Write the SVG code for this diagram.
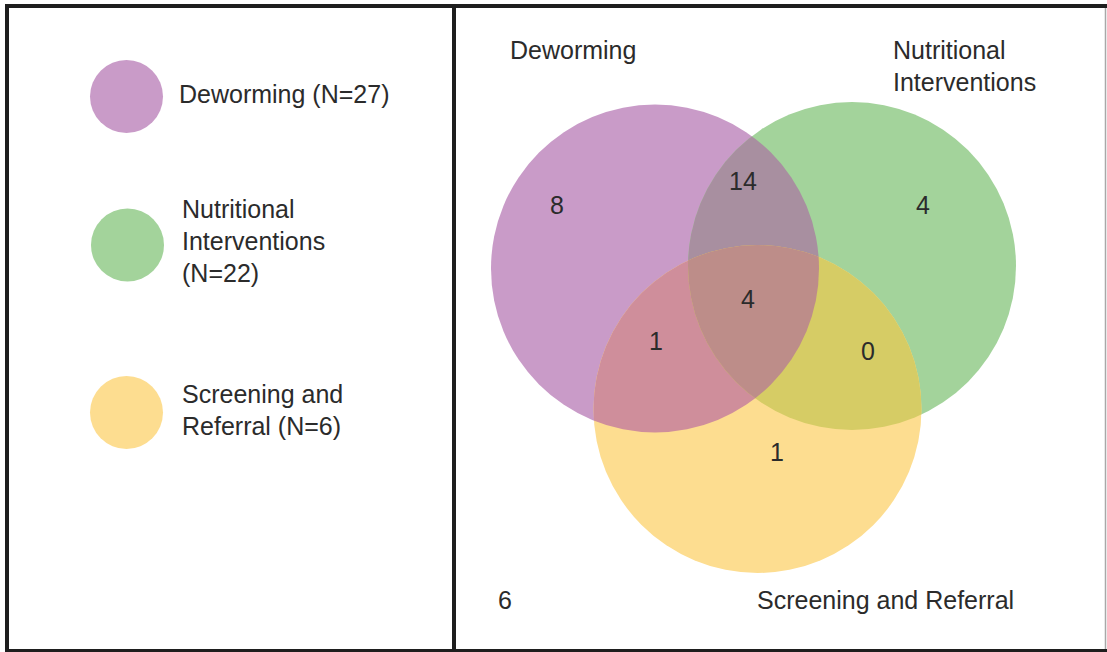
<svg xmlns="http://www.w3.org/2000/svg" width="1107" height="652" viewBox="0 0 1107 652">
<style>
text{font-family:"Liberation Sans",Arial,Helvetica,sans-serif;font-size:25px;fill:#2b2b2b}
.num{text-anchor:middle}
.frame{stroke:#1e1e1e;stroke-width:4;fill:none}
</style>
<defs>
<clipPath id="cpP"><circle cx="655" cy="268.5" r="164"/></clipPath>
<clipPath id="cpG"><circle cx="852" cy="266" r="164"/></clipPath>
</defs>
<rect width="1107" height="652" fill="#ffffff"/>
<g id="frame">
<line class="frame" x1="5" y1="6" x2="1107" y2="6"/>
<line class="frame" x1="7" y1="4" x2="7" y2="652"/>
<line class="frame" x1="5" y1="651" x2="1107" y2="651"/>
<line class="frame" x1="454" y1="4" x2="454" y2="652"/>
<line x1="1105.5" y1="8" x2="1105.5" y2="649" stroke="#a8a8a8" stroke-width="1.5"/>
</g>
<g id="legend">
<g id="legend-deworming">
<circle cx="126.5" cy="96.5" r="36.5" fill="#c99bc8"/>
<text x="179" y="103">Deworming (N=27)</text>
</g>
<g id="legend-nutritional">
<circle cx="127.5" cy="245" r="36.5" fill="#a3d39b"/>
<text x="182" y="218">Nutritional</text>
<text x="182" y="250">Interventions</text>
<text x="182" y="282">(N=22)</text>
</g>
<g id="legend-screening">
<circle cx="126.5" cy="412.5" r="36.5" fill="#fddd90"/>
<text x="182" y="403">Screening and</text>
<text x="182" y="435">Referral (N=6)</text>
</g>
</g>
<g id="venn">
<g id="set-deworming"><circle cx="655" cy="268.5" r="164" fill="#c99bc8"/></g>
<g id="set-nutritional"><circle cx="852" cy="266" r="164" fill="#a3d39b"/></g>
<g id="set-screening"><circle cx="757.5" cy="409" r="164" fill="#fddd90"/></g>
<g id="overlap-dn" clip-path="url(#cpP)"><circle cx="852" cy="266" r="164" fill="#a88fa0"/></g>
<g id="overlap-ds" clip-path="url(#cpP)"><circle cx="757.5" cy="409" r="164" fill="#cf8e9b"/></g>
<g id="overlap-ns" clip-path="url(#cpG)"><circle cx="757.5" cy="409" r="164" fill="#d6cc65"/></g>
<g id="overlap-all" clip-path="url(#cpP)"><g clip-path="url(#cpG)"><circle cx="757.5" cy="409" r="164" fill="#bd8d89"/></g></g>
</g>
<g id="labels">
<text x="510" y="59">Deworming</text>
<text x="893" y="59">Nutritional</text>
<text x="893" y="91">Interventions</text>
<text x="757" y="609">Screening and Referral</text>
<text x="505" y="609" class="num">6</text>
<text x="557" y="214" class="num">8</text>
<text x="743" y="190" class="num">14</text>
<text x="923" y="214" class="num">4</text>
<text x="748" y="308" class="num">4</text>
<text x="656" y="350" class="num">1</text>
<text x="868" y="360" class="num">0</text>
<text x="777" y="461" class="num">1</text>
</g>
</svg>
